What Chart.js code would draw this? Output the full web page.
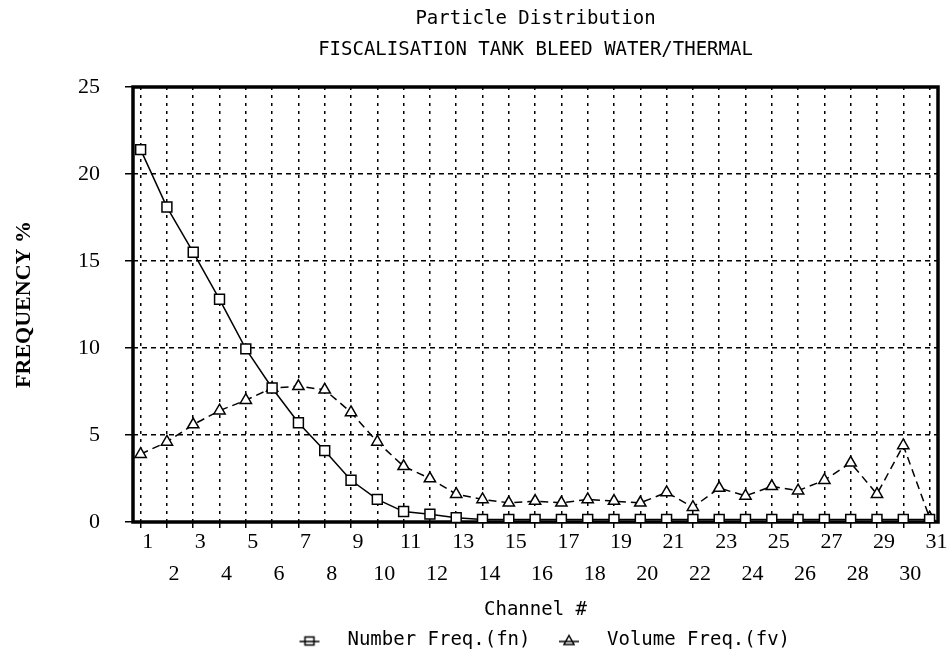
<!DOCTYPE html>
<html>
<head>
<meta charset="utf-8">
<title>Particle Distribution</title>
<script src="https://cdn.jsdelivr.net/npm/chart.js@4.4.1/dist/chart.umd.min.js"></script>
<style>
  html, body { margin: 0; padding: 0; background: #fff; }
  #wrap { width: 948px; height: 660px; }
</style>
</head>
<body>
<div id="wrap"><canvas id="psd"></canvas></div>
<script>
// channel numbers on the bottom axis
const channels = [1, 2, 3, 4, 5, 6, 7, 8, 9, 10, 11, 12, 13, 14, 15, 16,
                  17, 18, 19, 20, 21, 22, 23, 24, 25, 26, 27, 28, 29, 30, 31];
// number frequency fn, %
const numberFreq = [21.4, 18.1, 15.5, 12.8, 9.95, 7.7, 5.7, 4.1, 2.4, 1.3,
                    0.6, 0.45, 0.25, 0.15, 0.15, 0.15, 0.15, 0.15, 0.15, 0.15,
                    0.15, 0.15, 0.15, 0.15, 0.15, 0.15, 0.15, 0.15, 0.15, 0.15, 0.15];
// volume frequency fv, %
const volumeFreq = [3.9, 4.6, 5.6, 6.4, 7.0, 7.7, 7.8, 7.6, 6.3, 4.6,
                    3.2, 2.5, 1.6, 1.3, 1.1, 1.2, 1.1, 1.3, 1.2, 1.1,
                    1.7, 0.85, 1.95, 1.5, 2.05, 1.8, 2.4, 3.4, 1.6, 4.4, 0.25];
const yTicks = [0, 5, 10, 15, 20, 25];

const monoFont = "'DejaVu Sans Mono', 'Liberation Mono', monospace";
const serifFont = "'Liberation Serif', 'DejaVu Serif', serif";

Chart.defaults.color = '#000';

// small marker-with-line images for the legend
function legendMark(kind) {
    const c = document.createElement('canvas');
    c.width = 24;
    c.height = 16;
    const g = c.getContext('2d');
    g.strokeStyle = '#000';
    g.fillStyle = '#fff';
    g.lineWidth = 1.5;
    if (kind === 'rect') {
        g.fillRect(7.5, 4.5, 9, 8);
        g.strokeRect(7.5, 4.5, 9, 8);
    } else {
        g.beginPath();
        g.moveTo(12, 3);
        g.lineTo(17, 12);
        g.lineTo(7, 12);
        g.closePath();
        g.fill();
        g.stroke();
    }
    g.beginPath();
    g.moveTo(2, 9);
    g.lineTo(22, 9);
    g.stroke();
    return c;
}
const legendMarks = [legendMark('rect'), legendMark('triangle')];

// heavy frame round the plot area
const framePlugin = {
    id: 'frame',
    beforeDatasetsDraw(chart) {
        const {ctx, chartArea: a} = chart;
        ctx.save();
        ctx.strokeStyle = '#000';
        ctx.lineWidth = 3.5;
        ctx.strokeRect(a.left, a.top, a.right - a.left, a.bottom - a.top);
        ctx.restore();
    }
};

const ctx = document.getElementById('psd').getContext('2d');
new Chart(ctx, {
    type: 'line',
    data: {
        datasets: [{
            label: 'Number Freq.(fn)',
            data: channels.map((c, i) => ({x: c, y: numberFreq[i]})),
            borderColor: '#000',
            borderWidth: 1.5,
            pointStyle: 'rect',
            pointRadius: 7,
            pointBorderWidth: 1.5,
            pointBorderColor: '#000',
            pointBackgroundColor: '#fff',
            tension: 0,
            fill: false
        }, {
            label: 'Volume Freq.(fv)',
            data: channels.map((c, i) => ({x: c, y: volumeFreq[i]})),
            borderColor: '#000',
            borderWidth: 1.5,
            borderDash: [8, 5],
            pointStyle: 'triangle',
            pointRadius: 6.5,
            pointBorderWidth: 1.5,
            pointBorderColor: '#000',
            pointBackgroundColor: '#fff',
            tension: 0,
            fill: false
        }]
    },
    options: {
        responsive: true,
        maintainAspectRatio: false,
        animation: false,
        layout: {
            padding: {left: 0, right: 10, top: 0, bottom: 0}
        },
        scales: {
            x: {
                type: 'linear',
                min: 0.71,
                max: 31.32,
                afterBuildTicks: s => { s.ticks = channels.map(v => ({value: v})); },
                afterFit: s => { s.height = 99; },
                grid: {
                    color: '#000',
                    lineWidth: 1.5,
                    tickLength: 6,
                    tickColor: '#000'
                },
                border: {display: false, dash: [3, 5]},
                ticks: {
                    autoSkip: false,
                    maxRotation: 0,
                    labelOffset: 7,
                    padding: 6,
                    font: {family: serifFont, size: 22, lineHeight: '16px'},
                    // odd channels on the first row, even ones on the second
                    callback: v => v % 2 ? [String(v)] : ['', '', String(v)]
                },
                title: {
                    display: true,
                    text: 'Channel #',
                    font: {family: monoFont, size: 19},
                    padding: {top: 0, bottom: 0}
                }
            },
            y: {
                min: 0,
                max: 25,
                afterBuildTicks: s => { s.ticks = yTicks.map(v => ({value: v})); },
                afterFit: s => { s.width = 133; },
                grid: {
                    color: '#000',
                    lineWidth: 1.5,
                    tickLength: 8,
                    tickColor: '#000'
                },
                border: {display: false, dash: [5, 4]},
                ticks: {
                    padding: 25,
                    font: {family: serifFont, size: 22}
                },
                title: {
                    display: true,
                    text: 'FREQUENCY %',
                    font: {family: serifFont, size: 22, weight: 'bold'},
                    padding: {top: 11, bottom: 0}
                }
            }
        },
        plugins: {
            title: {
                display: true,
                fullSize: false,
                text: ['Particle Distribution', 'FISCALISATION TANK BLEED WATER/THERMAL'],
                color: '#000',
                font: {family: monoFont, size: 19, weight: 'normal', lineHeight: '31px'},
                padding: {top: 4, bottom: 21}
            },
            legend: {
                position: 'bottom',
                fullSize: false,
                labels: {
                    usePointStyle: true,
                    pointStyleWidth: 57,
                    padding: 10,
                    color: '#000',
                    font: {family: monoFont, size: 19},
                    generateLabels(chart) {
                        const items = Chart.defaults.plugins.legend.labels.generateLabels(chart);
                        items.forEach((it, i) => { it.pointStyle = legendMarks[i]; });
                        return items;
                    }
                }
            },
            tooltip: {enabled: false}
        }
    },
    plugins: [framePlugin]
});
</script>
</body>
</html>
